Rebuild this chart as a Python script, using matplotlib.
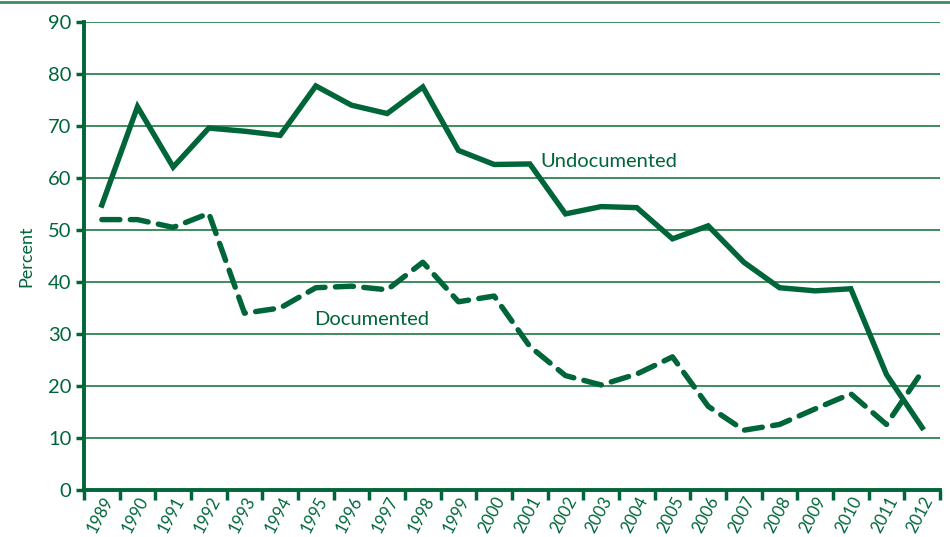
import matplotlib
matplotlib.use("Agg")
import matplotlib.pyplot as plt
from matplotlib.lines import Line2D
import numpy as np

years = [str(y) for y in range(1989, 2013)]
undocumented = [54.8, 73.7, 62.1, 69.6, 69.0, 68.2, 77.7, 74.0, 72.4, 77.5, 65.3, 62.6,
                62.7, 53.1, 54.5, 54.3, 48.3, 50.8, 43.8, 38.9, 38.3, 38.7, 22.2, 12.0]
documented = [52.0, 52.0, 50.5, 53.2, 34.0, 35.0, 38.9, 39.2, 38.5, 43.8, 36.2, 37.3,
              27.6, 22.0, 20.2, 22.3, 25.6, 16.1, 11.5, 12.6, 15.6, 18.5, 12.6, 22.8]
yticks = [0, 10, 20, 30, 40, 50, 60, 70, 80, 90]

green = "#00663a"
grid_green = "#3f8c5e"
plt.rcParams['font.family'] = ['Lato', 'DejaVu Sans']
plt.rcParams['lines.scale_dashes'] = False

fig = plt.figure(figsize=(9.5, 5.37), dpi=100)
ax = fig.add_axes([84/950, 1-490/537, (940-84)/950, (490-22)/537])

x = np.arange(len(years)) + 0.5
for yv in yticks[1:]:
    ax.axhline(yv, color=grid_green, lw=1.4, zorder=1)
ax.plot(x, undocumented, color=green, lw=3.9, solid_joinstyle='miter', zorder=3)
ax.plot(x, documented, color=green, lw=3.9, dashes=(13, 7.5), dash_capstyle='round', zorder=3)

ax.set_xlim(0, len(years))
ax.set_ylim(0, 90)
ax.set_yticks(yticks)
ax.set_yticklabels([str(v) for v in yticks], fontsize=14.5, color=green)
ax.set_xticks(np.arange(len(years) + 1))
ax.set_xticklabels([])
ax.set_xticks(x, minor=True)
ax.set_xticklabels(years, minor=True, rotation=62, ha='right', va='top',
                   rotation_mode='anchor', fontsize=12, color=green)
ax.tick_params(axis='x', which='minor', length=0, pad=3)
ax.tick_params(axis='x', which='major', length=7, width=2.5, color=green, direction='out')
ax.tick_params(axis='y', length=6, width=2.5, color=green, pad=3)

for s in ['top', 'right']:
    ax.spines[s].set_visible(False)
for s in ['left', 'bottom']:
    ax.spines[s].set_color(green)
    ax.spines[s].set_linewidth(2.8)

ax.set_ylabel("Percent", fontsize=13, color=green, labelpad=10)
ax.text(12.8, 63.2, "Undocumented", fontsize=14.5, color=green, ha='left', va='center')
ax.text(6.45, 32.8, "Documented", fontsize=14.5, color=green, ha='left', va='center')

fig.add_artist(Line2D([0, 1], [1 - 1.5/537, 1 - 1.5/537], color=grid_green, lw=2,
                      transform=fig.transFigure))

fig.savefig("out.png", dpi=100)
